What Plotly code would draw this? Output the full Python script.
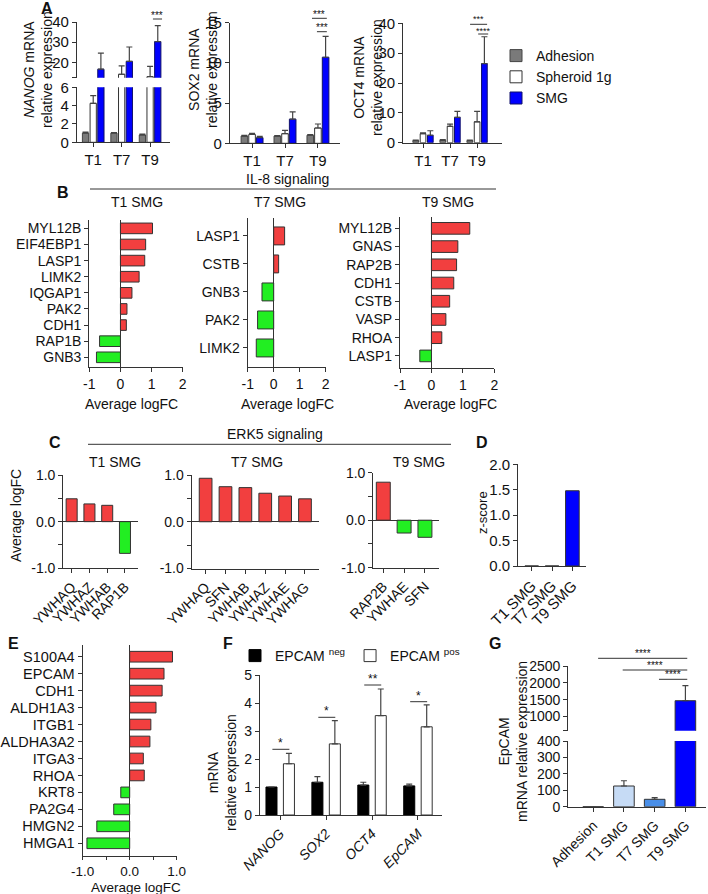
import plotly.graph_objects as go

W, H = 708, 894
FONT = "Liberation Sans, Arial, sans-serif"

# ---------------- DATA ----------------
# Panel A
a_groups = ["T1", "T7", "T9"]
a_series = ["Adhesion", "Spheroid 1g", "SMG"]
nanog_adh = [1.0, 1.0, 0.8]
nanog_adh_err = [0.1, 0.05, 0.1]
nanog_sph = [4.25, 14.1, 12.9]
nanog_sph_err = [0.85, 4.2, 5.1]
nanog_smg = [16.6, 20.5, 30.3]
nanog_smg_err = [8.0, 7.1, 7.9]
sox2_adh = [0.9, 0.9, 1.0]
sox2_adh_err = [0.08, 0.05, 0.08]
sox2_sph = [1.1, 1.2, 1.9]
sox2_sph_err = [0.15, 0.4, 0.5]
sox2_smg = [0.7, 3.0, 10.7]
sox2_smg_err = [0.15, 0.9, 2.6]
oct4_adh = [0.7, 0.8, 0.7]
oct4_adh_err = [0.2, 0.2, 0.2]
oct4_sph = [3.0, 5.5, 7.0]
oct4_sph_err = [0.3, 0.7, 3.5]
oct4_smg = [2.5, 8.5, 26.5]
oct4_smg_err = [1.5, 2.0, 9.0]

# Panel B (IL-8 signaling)
b_t1_genes = ["MYL12B", "EIF4EBP1", "LASP1", "LIMK2", "IQGAP1", "PAK2", "CDH1", "RAP1B", "GNB3"]
b_t1_vals = [1.03, 0.81, 0.78, 0.60, 0.37, 0.21, 0.19, -0.67, -0.77]
b_t7_genes = ["LASP1", "CSTB", "GNB3", "PAK2", "LIMK2"]
b_t7_vals = [0.42, 0.19, -0.45, -0.62, -0.67]
b_t9_genes = ["MYL12B", "GNAS", "RAP2B", "CDH1", "CSTB", "VASP", "RHOA", "LASP1"]
b_t9_vals = [1.22, 0.84, 0.80, 0.71, 0.58, 0.46, 0.33, -0.37]

# Panel C (ERK5 signaling)
c_t1_genes = ["YWHAQ", "YWHAZ", "YWHAB", "RAP1B"]
c_t1_vals = [0.49, 0.38, 0.35, -0.68]
c_t7_genes = ["YWHAQ", "SFN", "YWHAB", "YWHAZ", "YWHAE", "YWHAG"]
c_t7_vals = [0.93, 0.75, 0.73, 0.61, 0.55, 0.49]
c_t9_genes = ["RAP2B", "YWHAE", "SFN"]
c_t9_vals = [0.80, -0.27, -0.36]

# Panel D
d_groups = ["T1 SMG", "T7 SMG", "T9 SMG"]
d_vals = [0.0, 0.0, 1.48]

# Panel E
e_genes = ["S100A4", "EPCAM", "CDH1", "ALDH1A3", "ITGB1", "ALDHA3A2", "ITGA3", "RHOA",
           "KRT8", "PA2G4", "HMGN2", "HMGA1"]
e_vals = [0.91, 0.73, 0.69, 0.56, 0.45, 0.43, 0.29, 0.31, -0.19, -0.34, -0.70, -0.91]

# Panel F
f_genes = ["NANOG", "SOX2", "OCT4", "EpCAM"]
f_neg = [1.0, 1.17, 1.07, 1.04]
f_neg_err = [0.0, 0.2, 0.1, 0.06]
f_pos = [1.83, 2.54, 3.55, 3.15]
f_pos_err = [0.37, 0.83, 0.95, 0.78]

# Panel G
g_groups = ["Adhesion", "T1 SMG", "T7 SMG", "T9 SMG"]
g_vals = [1.0, 126.0, 45.0, 1470.0]
g_err = [0.0, 32.0, 10.0, 450.0]

# ---------------- STYLE ----------------
RED = "#f23f3f"
GREEN = "#22ee22"
BLUE = "#0000ff"
GRAY = "#7a7a7a"
LINE = "#333333"
G_COLORS = ["#ffffff", "#c6dbf5", "#4a8fe8", "#0000ff"]

layout = {}
annotations = []
shapes = []
fig = go.Figure()


def px_x(x0, x1):
    return [x0 / W, x1 / W]


def px_y(y0, y1):
    return [1 - y1 / H, 1 - y0 / H]


def base_axis(size=14):
    return dict(showline=True, linecolor=LINE, linewidth=1.2, ticks="outside", ticklen=4,
                tickwidth=1.2, tickcolor=LINE, showgrid=False, zeroline=False, automargin=False,
                tickfont=dict(size=size, color="#111", family=FONT), fixedrange=True)


def minor_ticks(vals, ln=4):
    return dict(tickmode="array", tickvals=vals, ticks="outside", ticklen=ln, tickwidth=1.2,
                tickcolor=LINE, showgrid=False)


def add_axes(i, xdom, ydom, xopts, yopts, size=14):
    xa = base_axis(size)
    ya = base_axis(size)
    sx = "" if i == 1 else str(i)
    xa.update(domain=px_x(*xdom), anchor=f"y{sx}")
    ya.update(domain=px_y(*ydom), anchor=f"x{sx}")
    xa.update(xopts)
    ya.update(yopts)
    layout[f"xaxis{sx}"] = xa
    layout[f"yaxis{sx}"] = ya
    return f"x{sx}", f"y{sx}"


def ann(text, x, y, size=14, angle=0, xanchor="center", yanchor="middle", bold=False, xref="paper"):
    annotations.append(dict(
        text=f"<b>{text}</b>" if bold else text,
        x=x if xref != "paper" else x / W, y=1 - y / H, xref=xref, yref="paper",
        showarrow=False, textangle=angle, xanchor=xanchor, yanchor=yanchor,
        font=dict(size=size, family=FONT, color="#111")))


def hline(xref, x0, x1, y, color=LINE, width=1):
    shapes.append(dict(type="line", xref=xref, yref="paper", x0=x0, x1=x1,
                       y0=1 - y / H, y1=1 - y / H, line=dict(color=color, width=width)))


def errbar(err):
    return dict(type="data", array=err, arrayminus=[0] * len(err), symmetric=False,
                color="#444", thickness=1.2, width=3)


def add_group(xa, ya, means, errs, w, s, showlegend=False):
    cols = [GRAY, "#ffffff", BLUE]
    lcols = ["#444", LINE, "#10106a"]
    centers = [-s, 0, s]
    for k in range(3):
        fig.add_trace(go.Bar(
            x=a_groups, y=means[k], name=a_series[k], xaxis=xa, yaxis=ya,
            width=w, offset=centers[k] - w / 2,
            marker=dict(color=cols[k], line=dict(color=lcols[k], width=1)),
            error_y=errbar(errs[k]), showlegend=showlegend, legend="legend"))


def cat_x(cats, lo, hi, **kw):
    d = dict(type="category", categoryorder="array", categoryarray=cats, range=[lo, hi],
             tickmode="array", tickvals=cats, ticktext=cats)
    d.update(kw)
    return d


def hbar(xa, ya, genes, vals, w):
    fig.add_trace(go.Bar(
        y=genes, x=vals, orientation="h", xaxis=xa, yaxis=ya, width=w,
        marker=dict(color=[RED if v > 0 else GREEN for v in vals], line=dict(color=LINE, width=1)),
        showlegend=False))


def vbar(xa, ya, cats, vals, w, colors=None):
    fig.add_trace(go.Bar(
        x=cats, y=vals, xaxis=xa, yaxis=ya, width=w,
        marker=dict(color=colors or [RED if v > 0 else GREEN for v in vals],
                    line=dict(color=LINE, width=1)),
        showlegend=False))


TF15 = dict(size=15, family=FONT, color="#111")

# ---------------- PANEL A ----------------
x1, y1 = add_axes(1, (77, 170), (87.3, 142.3),
                  cat_x(a_groups, -0.57, 2.7, tickfont=TF15),
                  dict(range=[0, 6], tickvals=[0, 2, 4, 6]), size=15)
x2, y2 = add_axes(2, (77, 170), (22, 77.7),
                  cat_x(a_groups, -0.57, 2.7, visible=False),
                  dict(range=[12.4, 40], tickvals=[20, 30, 40], minor=minor_ticks([12.4])),
                  size=15)
nan_means = [nanog_adh, nanog_sph, nanog_smg]
nan_errs = [nanog_adh_err, nanog_sph_err, nanog_smg_err]
add_group(x1, y1, nan_means, nan_errs, 0.22, 0.27)
add_group(x2, y2, nan_means, nan_errs, 0.22, 0.27)
ann("<i>NANOG</i> mRNA<br>relative expression", 38, 70, size=14, angle=-90)
hline(x1, 2.1, 2.42, 19)
ann("***", 2.26, 15, size=10, xref=x1)

x3, y3 = add_axes(3, (230, 340), (22.7, 143.3),
                  cat_x(a_groups, -0.67, 2.67, tickfont=TF15),
                  dict(range=[0, 15], tickvals=[0, 5, 10, 15]), size=15)
add_group(x3, y3, [sox2_adh, sox2_sph, sox2_smg], [sox2_adh_err, sox2_sph_err, sox2_smg_err],
          0.2, 0.233, showlegend=True)
ann("SOX2 mRNA<br>relative expression", 203, 70, size=14, angle=-90)
hline(x3, 1.82, 2.27, 18.3)
ann("***", 2.045, 14, size=10, xref=x3)
hline(x3, 1.97, 2.27, 31.7)
ann("***", 2.12, 27.3, size=10, xref=x3)

x4, y4 = add_axes(4, (403.3, 501.7), (23.3, 142.7),
                  cat_x(a_groups, -0.73, 2.91, tickfont=TF15),
                  dict(range=[0, 40], tickvals=[0, 10, 20, 30, 40]), size=15)
add_group(x4, y4, [oct4_adh, oct4_sph, oct4_smg], [oct4_adh_err, oct4_sph_err, oct4_smg_err],
          0.21, 0.27)
ann("OCT4 mRNA<br>relative expression", 368, 78, size=14, angle=-90)
hline(x4, 1.74, 2.37, 24.3)
ann("***", 2.05, 19.3, size=9, xref=x4)
hline(x4, 2.04, 2.41, 34)
ann("****", 2.22, 31, size=9, xref=x4)
ann("A", 47, 8, size=16, bold=True)

# ---------------- PANEL B ----------------
ann("B", 63, 192, size=16, bold=True)
hline("paper", 90 / W, 496 / W, 189)
ann("IL-8 signaling", 287, 179, size=14)
bx = dict(range=[-1, 2], tickvals=[-1, 0, 1, 2], ticktext=["-1", "0", "1", "2"],
          zeroline=True, zerolinecolor=LINE, zerolinewidth=1.2)

x5, y5 = add_axes(5, (89.3, 182.7), (220, 367.3), dict(bx),
                  cat_x(b_t1_genes, len(b_t1_genes) - 1 + 0.62, -0.52))
hbar(x5, y5, b_t1_genes, b_t1_vals, 0.66)
ann("T1 SMG", 137, 202)
ann("Average logFC", 131, 404)

x6, y6 = add_axes(6, (247.7, 325.7), (218, 367), dict(bx),
                  cat_x(b_t7_genes, len(b_t7_genes) - 1 + 0.68, -0.64))
hbar(x6, y6, b_t7_genes, b_t7_vals, 0.64)
ann("T7 SMG", 280, 202)
ann("Average logFC", 287, 404)

x7, y7 = add_axes(7, (400, 494.3), (216.7, 368.3), dict(bx),
                  cat_x(b_t9_genes, len(b_t9_genes) - 1 + 0.68, -0.64))
hbar(x7, y7, b_t9_genes, b_t9_vals, 0.64)
ann("T9 SMG", 448, 202)
ann("Average logFC", 450, 404)

# ---------------- PANEL C ----------------
ann("C", 55, 442, size=16, bold=True)
hline("paper", 88 / W, 451 / W, 444.3)
ann("ERK5 signaling", 275, 434, size=14)
cy = dict(range=[-1, 1], tickvals=[-1, 0, 1], ticktext=["-1.0", "0.0", "1.0"],
          minor=minor_ticks([-0.5, 0.5]),
          zeroline=True, zerolinecolor=LINE, zerolinewidth=1.2)

x8, y8 = add_axes(8, (63.3, 138.3), (475, 568.3),
                  cat_x(c_t1_genes, -0.47, 3.75, tickangle=-45), dict(cy))
vbar(x8, y8, c_t1_genes, c_t1_vals, 0.62)
ann("T1 SMG", 115, 462)
ann("Average logFC", 16, 516, angle=-90)

x9, y9 = add_axes(9, (191.7, 319.3), (475, 568.5),
                  cat_x(c_t7_genes, -0.7, 5.72, tickangle=-45), dict(cy))
vbar(x9, y9, c_t7_genes, c_t7_vals, 0.64)
ann("T7 SMG", 257, 462)

x10, y10 = add_axes(10, (373.3, 439.3), (472.7, 567.7),
                    cat_x(c_t9_genes, -0.48, 2.69, tickangle=-45), dict(cy))
vbar(x10, y10, c_t9_genes, c_t9_vals, 0.67)
ann("T9 SMG", 419, 462)

# ---------------- PANEL D ----------------
ann("D", 482, 443, size=16, bold=True)
x11, y11 = add_axes(11, (518.3, 586), (464.3, 566),
                    cat_x(d_groups, -0.66, 2.67, tickangle=-45),
                    dict(range=[0, 2], tickvals=[0, 0.5, 1, 1.5, 2],
                         ticktext=["0.0", "0.5", "1.0", "1.5", "2.0"]), size=15)
vbar(x11, y11, d_groups, d_vals, 0.67, colors=[BLUE] * len(d_groups))
ann("z-score", 482, 513, size=13, angle=-90)

# ---------------- PANEL E ----------------
ann("E", 13, 643, size=16, bold=True)
x12, y12 = add_axes(12, (82.7, 176.7), (645, 856),
                    dict(range=[-1, 1], tickvals=[-1, 0, 1],
                         ticktext=["-1.0", "0.0", "1.0"], ticklen=3,
                         minor=minor_ticks([-0.5, 0.5], 3),
                         zeroline=True, zerolinecolor=LINE, zerolinewidth=1.2,
                         tickfont=dict(size=13.5, family=FONT, color="#111")),
                    cat_x(e_genes, len(e_genes) - 1 + 0.75, -0.69), size=14.5)
hbar(x12, y12, e_genes, e_vals, 0.63)
ann("Average logFC", 136, 887, size=13.5)

# ---------------- PANEL F ----------------
ann("F", 228, 643, size=16, bold=True)
x13, y13 = add_axes(13, (260, 442.3), (675, 815),
                    cat_x(f_genes, -0.44, 3.53, tickangle=-45,
                          tickfont=dict(size=14, family=FONT, color="#111", style="italic")),
                    dict(range=[0, 5], tickvals=[0, 1, 2, 3, 4, 5]))
fig.add_trace(go.Bar(x=f_genes, y=f_neg, name="EPCAM <sup>neg</sup>", xaxis=x13, yaxis=y13,
                     width=0.24, offset=-0.19 - 0.12,
                     marker=dict(color="#000000", line=dict(color="#000", width=1)),
                     error_y=errbar(f_neg_err), legend="legend2"))
fig.add_trace(go.Bar(x=f_genes, y=f_pos, name="EPCAM <sup>pos</sup>", xaxis=x13, yaxis=y13,
                     width=0.24, offset=0.19 - 0.12,
                     marker=dict(color="#ffffff", line=dict(color=LINE, width=1)),
                     error_y=errbar(f_pos_err), legend="legend2"))
ann("mRNA<br>relative expression", 222, 773, angle=-90)
f_sig = ["*", "*", "**", "*"]
f_sig_y = [749.3, 717.3, 685, 701.7]
for k in range(4):
    hline(x13, k - 0.17, k + 0.2, f_sig_y[k])
    ann(f_sig[k], k + 0.015, f_sig_y[k] - 6, size=12, xref=x13)

# ---------------- PANEL G ----------------
ann("G", 495, 643, size=16, bold=True)
x14, y14 = add_axes(14, (568.3, 706), (741, 806.7),
                    cat_x(g_groups, -0.81, 3.67, tickangle=-45),
                    dict(range=[0, 400], tickvals=[0, 100, 200, 300, 400]))
x15, y15 = add_axes(15, (568.3, 706), (666, 730.7),
                    cat_x(g_groups, -0.81, 3.67, visible=False),
                    dict(range=[580, 2500], tickvals=[1000, 1500, 2000, 2500],
                         minor=minor_ticks([580])))
for xa, ya in [(x14, y14), (x15, y15)]:
    fig.add_trace(go.Bar(x=g_groups, y=g_vals, xaxis=xa, yaxis=ya, width=0.67,
                         marker=dict(color=G_COLORS, line=dict(color=LINE, width=1)),
                         error_y=errbar(g_err), showlegend=False))
ann("EpCAM<br>mRNA relative expression", 513, 742, angle=-90)
for (x0, x1_, yy) in [(0.16, 3.06, 658.3), (0.96, 3.06, 670), (2.14, 3.06, 679.3)]:
    hline(x14, x0, x1_, yy)
    ann("****", (x0 + x1_) / 2, yy - 5, size=10, xref=x14)

# ---------------- LAYOUT ----------------
layout.update(
    template="none",
    width=W, height=H, margin=dict(l=0, r=0, t=0, b=0, autoexpand=False),
    paper_bgcolor="white", plot_bgcolor="rgba(0,0,0,0)",
    font=dict(family=FONT, size=14, color="#111"),
    barmode="overlay", showlegend=True,
    annotations=annotations, shapes=shapes,
    legend=dict(x=496 / W, y=1 - 40 / H, xanchor="left", yanchor="top",
                bgcolor="rgba(0,0,0,0)", font=dict(size=14, family=FONT), tracegroupgap=0),
    legend2=dict(x=235 / W, y=1 - 640 / H, xanchor="left", yanchor="top", orientation="h",
                 bgcolor="rgba(0,0,0,0)", font=dict(size=14, family=FONT)),
)
fig.update_layout(**layout)
fig.write_html("out.html", config={"displayModeBar": False},
               post_script="document.body.style.margin='0px';")
